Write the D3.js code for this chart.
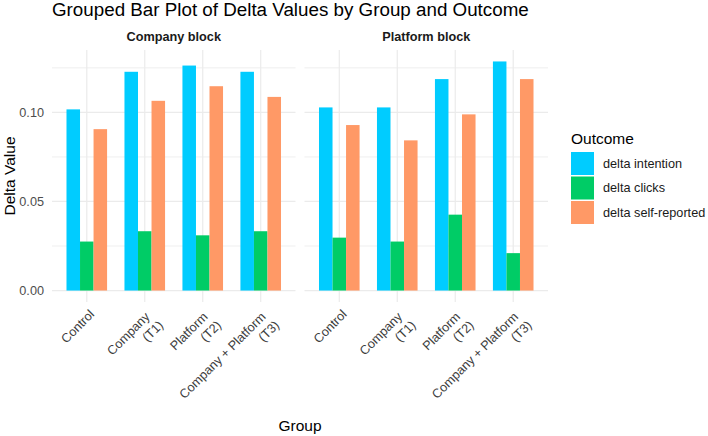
<!DOCTYPE html>
<html>
<head>
<meta charset="utf-8">
<script src="https://cdn.jsdelivr.net/npm/d3@7"></script>
<style>
    body { margin: 0; background: #ffffff; }
    #chart { width: 708px; height: 436px; }
    text { font-family: 'Liberation Sans', Arial, sans-serif; }
</style>
</head>
<body>
<div id="chart"></div>
<script>
'use strict'

// groups on the x axis (one label line per array entry)
const groups = ["Control", "Company (T1)", "Platform (T2)", "Company + Platform (T3)"]
const groupLines = [["Control"], ["Company ", "(T1)"], ["Platform ", "(T2)"], ["Company + Platform ", "(T3)"]]

const blocks = ["Company block", "Platform block"]
const outcomes = ["delta intention", "delta clicks", "delta self-reported"]

// values, in group order
const companyIntention = [0.1017, 0.1228, 0.1263, 0.1228]
const companyClicks = [0.0275, 0.0333, 0.0310, 0.0333]
const companySelfReported = [0.0906, 0.1065, 0.1147, 0.1087]

const platformIntention = [0.1028, 0.1028, 0.1187, 0.1286]
const platformClicks = [0.0297, 0.0275, 0.0426, 0.0210]
const platformSelfReported = [0.0929, 0.0843, 0.0989, 0.1187]

const yTicks = [0, 0.05, 0.10]
const yMinorTicks = [0.025, 0.075, 0.125]

let grouped_bars = ((selector = '#chart') => {

    const blockValues = {
        "Company block": [companyIntention, companyClicks, companySelfReported],
        "Platform block": [platformIntention, platformClicks, platformSelfReported]
    }

    // long format rows
    let data = []
    blocks.forEach(b => {
        outcomes.forEach((o, oi) => {
            groups.forEach((g, gi) => {
                data.push({ block: b, outcome: o, group: g, value: blockValues[b][oi][gi] })
            })
        })
    })

    ////////////////////////////////////
    //////////// svg setup /////////////
    ////////////////////////////////////

    const svgWidth = 708
    const svgHeight = 436

    const panelTop = 50
    const panelBottom = 302
    const panels = [
        { block: "Company block", left: 52, right: 295.5 },
        { block: "Platform block", left: 304.5, right: 548 }
    ]

    const svg = d3.select(selector)
        .append('svg')
        .attr('width', svgWidth)
        .attr('height', svgHeight)
        .attr("viewBox", `0 0 ${svgWidth} ${svgHeight}`)

    svg.append('rect')
        .attr('width', svgWidth)
        .attr('height', svgHeight)
        .attr('fill', '#ffffff')

    ////////////////////////////////////
    //////////// Scales ////////////////
    ////////////////////////////////////

    const colorScale = d3.scaleOrdinal()
        .domain(outcomes)
        .range(["#00CCFF", "#00CC66", "#FF9966"])

    const yMax = d3.max(data, d => d.value)
    const yPad = yMax * 0.05
    const y = d3.scaleLinear()
        .domain([-yPad, yMax + yPad])
        .range([panelBottom, panelTop])

    const gridColor = '#ebebeb'
    const font_family = "'Liberation Sans', Arial, sans-serif"

    ////////////////////////////////////
    //////////// panels ////////////////
    ////////////////////////////////////

    panels.forEach((p, pi) => {

        const x = d3.scalePoint()
            .domain(groups)
            .range([p.left, p.right])
            .padding(0.6)

        const dodge = d3.scaleBand()
            .domain(outcomes)
            .range([-x.step() * 0.35, x.step() * 0.35])

        const g = svg.append('g').attr('class', 'panel')

        // minor gridlines
        g.selectAll('.minor')
            .data(yMinorTicks)
            .join('line')
            .attr('x1', p.left)
            .attr('x2', p.right)
            .attr('y1', d => y(d))
            .attr('y2', d => y(d))
            .attr('stroke', gridColor)
            .attr('stroke-width', 0.8)

        // major gridlines
        g.selectAll('.major')
            .data(yTicks)
            .join('line')
            .attr('x1', p.left)
            .attr('x2', p.right)
            .attr('y1', d => y(d))
            .attr('y2', d => y(d))
            .attr('stroke', gridColor)
            .attr('stroke-width', 1.2)

        g.selectAll('.vgrid')
            .data(groups)
            .join('line')
            .attr('x1', d => x(d))
            .attr('x2', d => x(d))
            .attr('y1', panelTop)
            .attr('y2', panelBottom)
            .attr('stroke', gridColor)
            .attr('stroke-width', 1.2)

        // bars
        g.selectAll('.bar')
            .data(data.filter(d => d.block === p.block))
            .join('rect')
            .attr('class', 'bar')
            .attr('x', d => x(d.group) + dodge(d.outcome))
            .attr('width', dodge.bandwidth())
            .attr('y', d => y(d.value))
            .attr('height', d => y(0) - y(d.value))
            .attr('fill', d => colorScale(d.outcome))

        // strip label
        svg.append('text')
            .attr('x', (p.left + p.right) / 2)
            .attr('y', 41)
            .attr('text-anchor', 'middle')
            .attr('fill', '#1a1a1a')
            .style('font-family', font_family)
            .style('font-size', '12.7px')
            .style('font-weight', '700')
            .text(p.block)

        // x tick labels, rotated 45 degrees
        const labels = g.selectAll('.xlab')
            .data(groups)
            .join('g')
            .attr('class', 'xlab')
            .attr('transform', d => `translate(${x(d) - 3},315) rotate(-45)`)

        labels.each(function (d, i) {
            const lines = groupLines[i]
            const t = d3.select(this).append('text')
                .attr('text-anchor', 'end')
                .attr('fill', '#3d3d3d')
                .style('font-family', font_family)
                .style('font-size', '12.7px')
                .style('white-space', 'pre')
            lines.forEach((l, li) => {
                t.append('tspan')
                    .attr('x', 8)
                    .attr('y', 8 + li * 15.5)
                    .text(l)
            })
        })

        // y tick labels on the first panel only
        if (pi === 0) {
            svg.selectAll('.ylab')
                .data(yTicks)
                .join('text')
                .attr('class', 'ylab')
                .attr('x', p.left - 8)
                .attr('y', d => y(d))
                .attr('dy', '0.35em')
                .attr('text-anchor', 'end')
                .attr('fill', '#4d4d4d')
                .style('font-family', font_family)
                .style('font-size', '12.7px')
                .text(d => d3.format('.2f')(d))
        }
    })

    ////////////////////////////////////
    //////////// titles ////////////////
    ////////////////////////////////////

    svg.append('text')
        .attr('x', 52)
        .attr('y', 16)
        .attr('fill', '#000000')
        .style('font-family', font_family)
        .style('font-size', '18.8px')
        .text('Grouped Bar Plot of Delta Values by Group and Outcome')

    svg.append('text')
        .attr('x', (panels[0].left + panels[1].right) / 2)
        .attr('y', 431)
        .attr('text-anchor', 'middle')
        .attr('fill', '#000000')
        .style('font-family', font_family)
        .style('font-size', '15.5px')
        .text('Group')

    svg.append('text')
        .attr('transform', `translate(15,${(panelTop + panelBottom) / 2}) rotate(-90)`)
        .attr('text-anchor', 'middle')
        .attr('fill', '#000000')
        .style('font-family', font_family)
        .style('font-size', '15.5px')
        .text('Delta Value')

    ////////////////////////////////////
    //////////// legend ////////////////
    ////////////////////////////////////

    const legend = svg.append('g')
        .attr('transform', 'translate(571,0)')

    legend.append('text')
        .attr('x', 0)
        .attr('y', 144)
        .attr('fill', '#000000')
        .style('font-family', font_family)
        .style('font-size', '15.5px')
        .text('Outcome')

    const rows = legend.selectAll('.key')
        .data(outcomes)
        .join('g')
        .attr('class', 'key')
        .attr('transform', (d, i) => `translate(0,${152 + i * 24.5})`)

    rows.append('rect')
        .attr('width', 23)
        .attr('height', 23)
        .attr('fill', d => colorScale(d))

    rows.append('text')
        .attr('x', 32)
        .attr('y', 11.5)
        .attr('dy', '0.35em')
        .attr('fill', '#1a1a1a')
        .style('font-family', font_family)
        .style('font-size', '12.7px')
        .text(d => d)

})

grouped_bars()
</script>
</body>
</html>
